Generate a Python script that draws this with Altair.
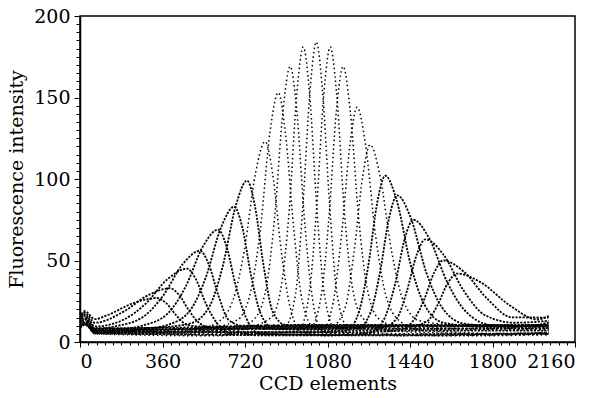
import altair as alt
import pandas as pd

# Each spectrum: (CCD element, fluorescence intensity) key points
c01 = [(0,15),(20,19),(65,14),(115,16.2),(234,23.9),(336,27),(375,23.9),(421,16.2),(466,10.6),(531,9.5),(1200,9.5),(2045,10)]
c02 = [(0,14),(20,18),(65,11.8),(192,18.8),(300,28.9),(393,33),(432,28.9),(478,18.8),(523,11.4),(588,8.3),(1200,8),(2045,8.5)]
c03 = [(0,13),(20,17),(65,9.5),(187,13.5),(285,23.3),(383,38.7),(467,45),(505,38.7),(550,23.3),(595,12.1),(659,5),(1300,4.5),(2045,5.5)]
c04 = [(0,12),(20,16),(65,8),(149,9.5),(274,15.3),(361,28.1),(449,47.9),(524,56),(561,47.9),(605,28.1),(648,13.6),(710,10),(1400,10),(2045,9.5)]
c05 = [(0,12),(20,15),(65,7),(150,7.6),(273,10.1),(383,17.5),(460,33.7),(537,58.8),(603,69),(639,58.8),(681,33.7),(723,15.4),(783,5),(1400,4),(2045,5)]
c06 = [(0,11),(20,14),(65,6.5),(250,7.5),(388,10.8),(483,19.9),(549,39.7),(616,70.5),(673,83),(708,70.5),(748,39.7),(789,17.3),(847,7.8),(1500,7),(2045,7)]
c07 = [(0,11),(20,14),(65,8),(350,9),(483,11.5),(565,21.8),(622,46),(680,83.7),(729,99),(763,83.7),(802,46),(841,18.6),(897,10.5),(1500,10.5),(2045,10.5)]
c08 = [(0,10),(20,13),(65,5.5),(450,5.5),(598,11.9),(668,25.9),(717,56.3),(766,103.7),(808,123),(840,103.7),(878,56.3),(916,21.8),(970,6),(1600,5),(2045,5.5)]
c09 = [(0,10),(20,13),(65,7),(550,8.5),(685,13.4),(745,31),(787,69.2),(829,128.7),(865,153),(896,128.7),(933,69.2),(969,25.8),(1021,9),(1600,8.5),(2045,8)]
c10 = [(0,10),(20,13),(65,5),(620,3.8),(761,14.2),(813,33.7),(849,76),(886,142),(917,169),(946,142),(979,76),(1013,28),(1061,5.5),(1700,3.8),(2045,4.5)]
c11 = [(0,10),(20,12.5),(65,6),(680,7.5),(833,14.8),(880,35.8),(913,81),(946,152),(974,181),(1002,152),(1034,81),(1066,29.6),(1112,8.5),(1750,7.5),(2045,7.5)]
c12 = [(0,10),(20,12.5),(65,7),(750,9.5),(896,10),(941,30),(972,82.5),(1004,154.6),(1031,184),(1058,154.6),(1090,82.5),(1121,30),(1166,10),(1800,9.5),(2045,9)]
c13 = [(0,10),(20,12),(65,5.5),(800,5),(954,7),(1000,29.6),(1032,81),(1064,152),(1092,181),(1120,152),(1153,81),(1186,35.8),(1233,14.8),(1320,7),(1850,5),(2045,6)]
c14 = [(0,10),(20,12),(65,6),(850,8),(1004,8.5),(1052,28),(1086,76),(1119,142),(1148,169),(1179,142),(1216,76),(1252,33.7),(1304,14.2),(1400,9),(1900,8),(2045,8.5)]
c15 = [(0,9.5),(20,12),(65,5),(900,4.5),(1053,6),(1105,24.6),(1141,65.3),(1178,121),(1209,144),(1246,121),(1290,65.3),(1333,29.5),(1395,12.9),(1500,7),(2045,4.5)]
c16 = [(0,9.5),(20,12),(65,7),(950,10.5),(1104,10.5),(1158,21.5),(1196,55.5),(1234,102),(1266,121),(1309,102),(1360,55.5),(1410,25.5),(1482,13),(1650,10.5),(2045,10.5)]
c17 = [(0,9),(20,11.5),(65,6),(1000,6),(1164,7),(1220,19.8),(1259,47.9),(1298,86.3),(1332,102),(1383,86.3),(1442,47.9),(1502,23.2),(1587,11.8),(1800,9),(2045,10)]
c18 = [(0,9),(20,11.5),(65,7),(1050,8.5),(1210,8.5),(1268,18.2),(1309,42.7),(1349,76.3),(1384,90),(1443,76.3),(1511,42.7),(1580,21.1),(1678,11.2),(1880,9.5),(2045,11)]
c19 = [(0,9),(20,11),(65,5.5),(1100,4),(1274,6),(1334,16.2),(1376,36.2),(1418,63.8),(1454,75),(1523,63.8),(1604,36.2),(1684,18.6),(1799,10.4),(1960,10),(2045,12)]
c20 = [(0,9),(20,11),(65,7.5),(1150,9),(1321,9),(1383,14.6),(1426,31.1),(1470,53.8),(1507,63),(1585,53.8),(1676,31.1),(1767,16.5),(1897,11.8),(2045,13)]
c21 = [(0,8.5),(20,11),(65,6.5),(1200,6),(1393,7),(1457,13.7),(1502,26.1),(1547,43.1),(1585,50),(1675,43.1),(1780,26.1),(1885,15.1),(2045,15)]
c22 = [(0,8.5),(20,10.5),(65,8.5),(1250,10),(1448,10),(1514,12.6),(1560,22.6),(1606,36.4),(1646,42),(1751,36.4),(1874,22.6),(1996,13.8),(2045,16)]

curves = [c01, c02, c03, c04, c05, c06, c07, c08, c09, c10, c11,
          c12, c13, c14, c15, c16, c17, c18, c19, c20, c21, c22]
# flank spectra are drawn more densely dotted than the tall central ones
curve_kind = ["flank"] * 7 + ["center"] * 9 + ["flank"] * 6

x_ticks = list(range(0, 2161, 36))
y_ticks = list(range(0, 201, 5))

rows = []
for i, pts in enumerate(curves):
    for x, y in pts:
        rows.append({"curve": i, "kind": curve_kind[i], "ccd": x, "intensity": y})
df = pd.DataFrame(rows)

FONT = "DejaVu Serif"

chart = alt.Chart(df).mark_line(
    interpolate="monotone", color="black", clip=True
).encode(
    x=alt.X("ccd:Q", scale=alt.Scale(domain=[0, 2160], nice=False, zero=False),
            axis=alt.Axis(values=x_ticks, format="d",
                          labelExpr="datum.value % 360 === 0 ? datum.label : ''",
                          tickSize={"condition": {"test": "datum.value % 360 === 0", "value": 5}, "value": 3},
                          title="CCD elements", grid=False, labelPadding=5,
                          titlePadding=3)),
    y=alt.Y("intensity:Q", scale=alt.Scale(domain=[0, 200], nice=False),
            axis=alt.Axis(values=y_ticks, format="d",
                          labelExpr="datum.value % 50 === 0 ? datum.label : ''",
                          tickSize={"condition": {"test": "datum.value % 50 === 0", "value": 6}, "value": 4},
                          title="Fluorescence intensity", grid=False, labelPadding=4,
                          titlePadding=7)),
    strokeDash=alt.StrokeDash("kind:N", legend=None,
                              scale=alt.Scale(domain=["flank", "center"],
                                              range=[[2.2, 1.3], [1.5, 2.8]])),
    strokeWidth=alt.StrokeWidth("kind:N", legend=None,
                                scale=alt.Scale(domain=["flank", "center"],
                                                range=[1.8, 1.5])),
    detail="curve:N",
).properties(
    width=495, height=326,
    autosize=alt.AutoSizeParams(type="none"),
    padding={"left": 80, "top": 16, "right": 27, "bottom": 56},
    background="white",
).configure_view(
    stroke="black", strokeWidth=1.5
).configure_axis(
    domainColor="black", domainWidth=1.5, tickColor="black", tickWidth=1,
    labelColor="black", titleColor="black",
    labelFont=FONT, titleFont=FONT, labelFontSize=19, titleFontSize=19,
    titleFontWeight="normal", labelOverlap=False
)

chart.save("out.html", embed_options={"renderer": "svg", "actions": False})
